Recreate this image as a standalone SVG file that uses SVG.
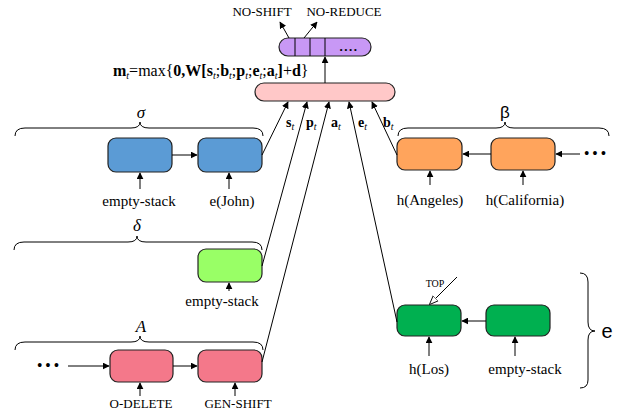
<svg xmlns="http://www.w3.org/2000/svg" width="624" height="417" viewBox="0 0 624 417">
<defs>
<marker id="ah" viewBox="0 0 10 10" refX="9" refY="5" markerWidth="7" markerHeight="7" orient="auto" markerUnits="userSpaceOnUse"><path d="M0,0 L10,5 L0,10 z" fill="#000"/></marker>
<marker id="oh" viewBox="0 0 10 10" refX="9" refY="5" markerWidth="9" markerHeight="9" orient="auto" markerUnits="userSpaceOnUse"><path d="M0,1 L10,5 L0,9 z" fill="#fff" stroke="#000" stroke-width="1"/></marker>
</defs>
<style>
.lb{font-size:15px;text-anchor:middle}
.sm{font-size:13px;text-anchor:middle}
.box{stroke:#222;stroke-width:1.2}
.ln{stroke:#000;stroke-width:1;fill:none}
.ar{stroke:#000;stroke-width:1;fill:none;marker-end:url(#ah)}
.br{stroke:#000;stroke-width:1;fill:none}
.sub{font-size:10px;font-style:italic;font-weight:normal}
.b{font-weight:bold}
.gr{font-size:17px;font-style:italic;text-anchor:middle}
</style>
<rect width="624" height="417" fill="#fff"/>
<g font-family="'Liberation Serif', 'Times New Roman', serif" fill="#000">

<g id="output">
<rect x="279" y="38" width="92" height="18" rx="9" fill="#c898f5" class="box"/>
<line x1="295" y1="38" x2="295" y2="56" class="ln"/>
<line x1="310" y1="38" x2="310" y2="56" class="ln"/>
<line x1="325" y1="38" x2="325" y2="56" class="ln"/>
<text x="349" y="51" font-size="13" font-weight="bold" text-anchor="middle" letter-spacing="1.5">....</text>
<text x="262" y="16" class="sm">NO-SHIFT</text>
<text x="344" y="16" class="sm">NO-REDUCE</text>
</g>

<g id="hidden">
<rect x="255" y="83" width="140" height="18" rx="9" fill="#ffc8c8" class="box"/>
<text x="113" y="76" font-size="16"><tspan class="b">m</tspan><tspan class="sub" dy="3">t</tspan><tspan dy="-3">=max{</tspan><tspan class="b">0,W[s</tspan><tspan class="sub" dy="3">t</tspan><tspan dy="-3">;</tspan><tspan class="b">b</tspan><tspan class="sub" dy="3">t</tspan><tspan dy="-3">;</tspan><tspan class="b">p</tspan><tspan class="sub" dy="3">t</tspan><tspan dy="-3">;</tspan><tspan class="b">e</tspan><tspan class="sub" dy="3">t</tspan><tspan dy="-3">;</tspan><tspan class="b">a</tspan><tspan class="sub" dy="3">t</tspan><tspan dy="-3" class="b">]</tspan><tspan>+</tspan><tspan class="b">d</tspan><tspan>}</tspan></text>
</g>

<g id="sigma">
<rect x="108" y="138" width="64" height="34" rx="8" fill="#5b9bd5" class="box"/>
<rect x="198" y="138" width="64" height="34" rx="8" fill="#5b9bd5" class="box"/>
<text x="139" y="206" class="lb">empty-stack</text>
<text x="232" y="206" class="lb">e(John)</text>
<text x="141" y="118" class="gr">σ</text>
<path class="br" d="M15,136 Q15,128 25,128 L131,128 Q140,128 140,122 Q140,128 149,128 L253,128 Q263,128 263,136"/>
</g>

<g id="delta">
<rect x="198" y="249" width="64" height="33" rx="8" fill="#99ff66" class="box"/>
<text x="222" y="306" class="lb">empty-stack</text>
<text x="137" y="231" class="gr">δ</text>
<path class="br" d="M14,250 Q14,242 24,242 L128,242 Q137,242 137,236 Q137,242 146,242 L252,242 Q262,242 262,250"/>
</g>

<g id="actions">
<rect x="110" y="350" width="63" height="32" rx="8" fill="#f4788a" class="box"/>
<rect x="198" y="350" width="64" height="32" rx="8" fill="#f4788a" class="box"/>
<text x="48" y="370" font-size="14" font-weight="bold" text-anchor="middle">• • •</text>
<text x="141" y="408" class="sm">O-DELETE</text>
<text x="238" y="408" class="sm">GEN-SHIFT</text>
<text x="141" y="332" class="gr">A</text>
<path class="br" d="M15,350 Q15,342 25,342 L131,342 Q140,342 140,336 Q140,342 149,342 L253,342 Q263,342 263,350"/>
</g>

<g id="beta">
<rect x="397" y="138" width="65" height="32" rx="8" fill="#ffa45c" class="box"/>
<rect x="491" y="138" width="64" height="32" rx="8" fill="#ffa45c" class="box"/>
<text x="595" y="158" font-size="14" font-weight="bold" text-anchor="middle">• • •</text>
<text x="430" y="205" class="lb">h(Angeles)</text>
<text x="525" y="205" class="lb">h(California)</text>
<text x="505" y="118" font-size="17" font-family="'Liberation Sans', Arial, sans-serif" text-anchor="middle">β</text>
<path class="br" d="M398,136 Q398,128 408,128 L496,128 Q505,128 505,122 Q505,128 514,128 L599,128 Q609,128 609,136"/>
</g>

<g id="e">
<rect x="397" y="305" width="64" height="31" rx="8" fill="#00b050" class="box"/>
<rect x="486" y="305" width="64" height="31" rx="8" fill="#00b050" class="box"/>
<text x="429" y="374" class="lb">h(Los)</text>
<text x="525" y="374" class="lb">empty-stack</text>
<text x="435" y="287" font-size="10" text-anchor="middle">TOP</text>
<text x="607" y="338" font-size="20" font-family="'Liberation Sans', Arial, sans-serif" text-anchor="middle">e</text>
<path class="br" d="M580,273 Q588,273 588,282 L588,322 Q588,331 595,331 Q588,331 588,340 L588,380 Q588,388 580,388"/>
</g>

<g id="connectors">
<line x1="325" y1="83" x2="325" y2="57" class="ar"/>
<line x1="289" y1="38" x2="280" y2="22" class="ar"/>
<line x1="304" y1="38" x2="317" y2="22" class="ar"/>
<line x1="262" y1="155" x2="288" y2="102" class="ar"/>
<line x1="262" y1="266" x2="307" y2="102" class="ar"/>
<line x1="262" y1="362" x2="329" y2="102" class="ar"/>
<line x1="397" y1="322" x2="349" y2="102" class="ar"/>
<line x1="397" y1="155" x2="372" y2="102" class="ar"/>
<text x="286" y="127" font-size="14"><tspan class="b">s</tspan><tspan class="sub" dy="3">t</tspan></text>
<text x="306" y="127" font-size="14"><tspan class="b">p</tspan><tspan class="sub" dy="3">t</tspan></text>
<text x="331" y="127" font-size="14"><tspan class="b">a</tspan><tspan class="sub" dy="3">t</tspan></text>
<text x="358" y="127" font-size="14"><tspan class="b">e</tspan><tspan class="sub" dy="3">t</tspan></text>
<text x="383" y="127" font-size="14"><tspan class="b">b</tspan><tspan class="sub" dy="3">t</tspan></text>
<line x1="172" y1="155" x2="197" y2="155" class="ar"/>
<line x1="140" y1="189" x2="140" y2="173" class="ar"/>
<line x1="229" y1="189" x2="229" y2="173" class="ar"/>
<line x1="229" y1="291" x2="229" y2="283" class="ar"/>
<line x1="68" y1="366" x2="109" y2="366" class="ar"/>
<line x1="173" y1="366" x2="197" y2="366" class="ar"/>
<line x1="140" y1="396" x2="140" y2="383" class="ar"/>
<line x1="235" y1="396" x2="235" y2="383" class="ar"/>
<line x1="491" y1="154" x2="463" y2="154" class="ar"/>
<line x1="580" y1="154" x2="556" y2="154" class="ar"/>
<line x1="430" y1="185" x2="430" y2="171" class="ar"/>
<line x1="523" y1="185" x2="523" y2="171" class="ar"/>
<line x1="486" y1="321" x2="462" y2="321" class="ar"/>
<line x1="429" y1="356" x2="429" y2="337" class="ar"/>
<line x1="515" y1="356" x2="515" y2="337" class="ar"/>
<line x1="457" y1="277" x2="430" y2="304" stroke="#000" stroke-width="1" marker-end="url(#oh)"/>
</g>
</g>
</svg>
